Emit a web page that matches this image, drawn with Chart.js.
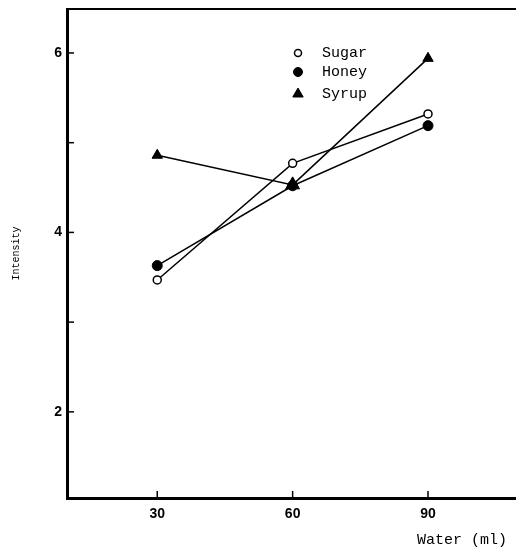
<!DOCTYPE html>
<html>
<head>
<meta charset="utf-8">
<script src="https://cdn.jsdelivr.net/npm/chart.js@4"></script>
<style>
  html, body { margin: 0; padding: 0; background: #fff; overflow: hidden; }
  #wrap { width: 516px; height: 549px; }
</style>
</head>
<body>
<div id="wrap"><canvas id="myChart" width="516" height="549"></canvas></div>
<script>
// values
const water = [30, 60, 90];
const sugar = [3.47, 4.77, 5.32];
const honey = [3.63, 4.52, 5.19];
const syrup = [4.86, 4.53, 5.94];
const xTicks = [30, 60, 90];
const yTicks = [2, 4, 6];
const yMarks = [2, 3, 4, 5, 6];

function pts(vals) {
  return water.map((w, i) => ({ x: w, y: vals[i] }));
}

// inner tick marks + thin top frame line
const frame = {
  id: 'frame',
  afterDraw(chart) {
    const ctx = chart.ctx;
    const a = chart.chartArea;
    const xs = chart.scales.x, ys = chart.scales.y;
    ctx.save();
    ctx.strokeStyle = '#000';
    ctx.lineWidth = 2;
    ctx.beginPath();
    ctx.moveTo(a.left, a.top);
    ctx.lineTo(chart.width, a.top);
    ctx.stroke();
    ctx.lineWidth = 1.5;
    yMarks.forEach(v => {
      const y = ys.getPixelForValue(v);
      ctx.beginPath();
      ctx.moveTo(a.left, y);
      ctx.lineTo(a.left + 7, y);
      ctx.stroke();
    });
    xTicks.forEach(v => {
      const x = xs.getPixelForValue(v);
      ctx.beginPath();
      ctx.moveTo(x, a.bottom);
      ctx.lineTo(x, a.bottom - 7);
      ctx.stroke();
    });
    // x axis title, bottom right
    ctx.fillStyle = '#000';
    ctx.font = '15px "Liberation Mono"';
    ctx.textAlign = 'right';
    ctx.textBaseline = 'middle';
    ctx.fillText('Water (ml)', 507, 540);
    ctx.restore();
  }
};

// legend inside the plot
const innerLegend = {
  id: 'innerLegend',
  afterDraw(chart) {
    const ctx = chart.ctx;
    const rows = [53, 72, 94];
    ctx.save();
    chart.data.datasets.slice().reverse().forEach((ds, i) => {
      const y = rows[i];
      ctx.fillStyle = ds.pointBackgroundColor;
      ctx.strokeStyle = '#000';
      ctx.lineWidth = ds.pointBorderWidth;
      Chart.helpers.drawPoint(ctx, {
        pointStyle: ds.pointStyle,
        radius: ds.legendRadius,
        borderWidth: ds.pointBorderWidth,
        rotation: 0
      }, 298, y);
      ctx.fillStyle = '#000';
      ctx.font = '15px "Liberation Mono"';
      ctx.textAlign = 'left';
      ctx.textBaseline = 'middle';
      ctx.fillText(ds.label, 322, y);
    });
    ctx.restore();
  }
};

const ctx = document.getElementById('myChart');
const myChart = new Chart(ctx, {
  type: 'line',
  data: {
    datasets: [
      {
        label: 'Syrup',
        data: pts(syrup),
        borderColor: '#000',
        borderWidth: 1.5,
        pointStyle: 'triangle',
        pointRadius: [6, 8, 6],
        legendRadius: 6,
        pointBackgroundColor: '#000',
        pointBorderColor: '#000',
        pointBorderWidth: 1
      },
      {
        label: 'Honey',
        data: pts(honey),
        borderColor: '#000',
        borderWidth: 1.5,
        pointStyle: 'circle',
        pointRadius: 5,
        legendRadius: 4.5,
        pointBackgroundColor: '#000',
        pointBorderColor: '#000',
        pointBorderWidth: 1
      },
      {
        label: 'Sugar',
        data: pts(sugar),
        borderColor: '#000',
        borderWidth: 1.5,
        pointStyle: 'circle',
        pointRadius: 4,
        legendRadius: 3.5,
        pointBackgroundColor: '#fff',
        pointBorderColor: '#000',
        pointBorderWidth: 1.5
      }
    ]
  },
  options: {
    responsive: false,
    animation: false,
    clip: false,
    layout: { autoPadding: false, padding: { top: 9, right: 0, left: 0, bottom: 0 } },
    plugins: {
      legend: { display: false },
      tooltip: { enabled: false }
    },
    scales: {
      x: {
        type: 'linear',
        min: 10,
        max: 109.5,
        grid: { display: false, drawTicks: false },
        border: { display: true, color: '#000', width: 3 },
        afterBuildTicks: s => { s.ticks = xTicks.map(v => ({ value: v })); },
        afterFit: s => { s.height = 51; s.paddingLeft = 0; s.paddingRight = 0; },
        ticks: {
          color: '#000',
          padding: 8,
          autoSkip: false,
          maxRotation: 0,
          font: { family: '"Liberation Sans"', size: 14, weight: 'bold' }
        }
      },
      y: {
        min: 1.04,
        max: 6.49,
        grid: { display: false, drawTicks: false },
        border: { display: true, color: '#000', width: 3 },
        afterBuildTicks: s => { s.ticks = yTicks.map(v => ({ value: v })); },
        afterFit: s => { s.width = 67; s.paddingTop = 0; s.paddingBottom = 0; },
        ticks: {
          color: '#000',
          padding: 5,
          font: { family: '"Liberation Sans"', size: 14, weight: 'bold' }
        },
        title: {
          display: true,
          text: 'Intensity',
          color: '#000',
          padding: { top: 10, bottom: 0 },
          font: { family: '"Liberation Mono"', size: 10 }
        }
      }
    }
  },
  plugins: [frame, innerLegend]
});
</script>
</body>
</html>
